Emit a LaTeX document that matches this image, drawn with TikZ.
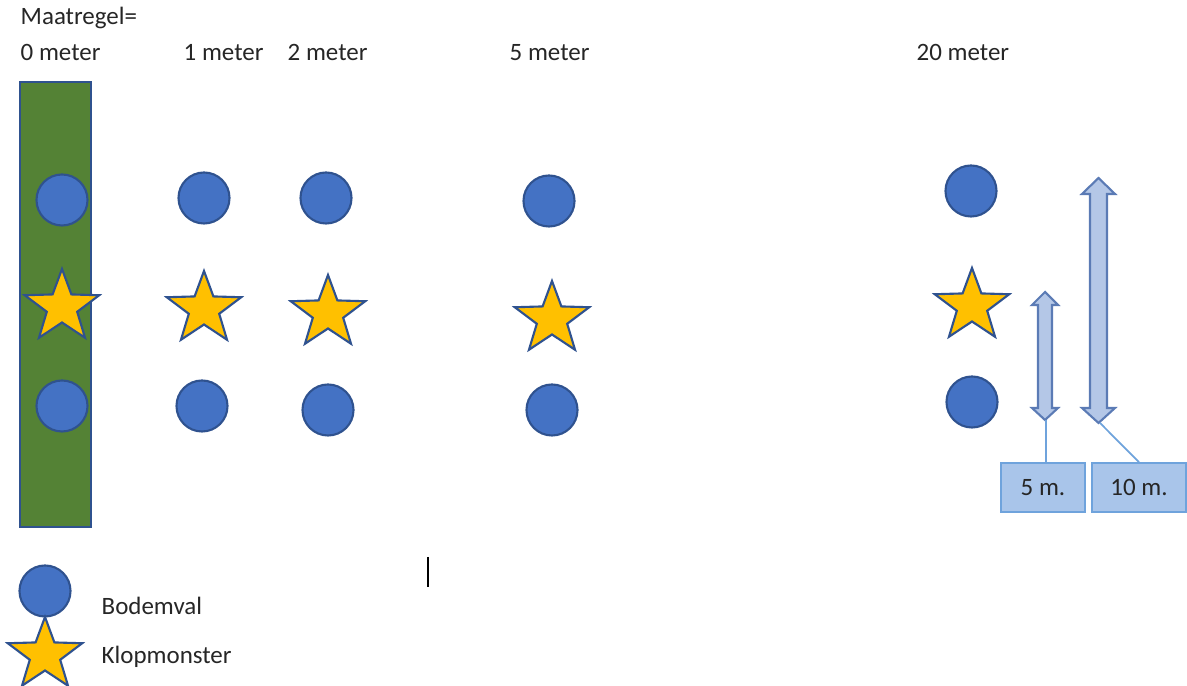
\documentclass[tikz,border=0pt]{standalone}
\usepackage{xcolor}
\usepackage{fontspec}
\setmainfont{Carlito}
\usepackage{tikz}
\usetikzlibrary{shapes.geometric}

\definecolor{trapblue}{HTML}{4472C4}
\definecolor{trapline}{HTML}{2F528F}
\definecolor{stargold}{HTML}{FFC000}
\definecolor{stripgreen}{HTML}{548235}
\definecolor{arrowfill}{HTML}{B4C7E7}
\definecolor{arrowline}{HTML}{5B7BB5}
\definecolor{boxfill}{HTML}{A9C5EA}
\definecolor{boxline}{HTML}{6FA3DC}
\definecolor{txt}{HTML}{262626}

\tikzset{
  trap/.style={circle,draw=trapline,fill=trapblue,line width=0.6pt,minimum size=0.51cm,inner sep=0pt},
  sample/.style={star,star points=5,star point ratio=2.45,draw=trapline,fill=stargold,line width=0.6pt,minimum size=0.76cm,inner sep=0pt,xscale=1.03},
  lbl/.style={anchor=west,text=txt,inner sep=0pt,font=\fontsize{7.1}{8.5}\selectfont},
  dist/.style={draw=arrowline,fill=arrowfill,line width=0.6pt,line join=miter},
  callout/.style={draw=boxline,fill=boxfill,line width=0.5pt,text=txt,inner sep=0pt,font=\fontsize{7.1}{8.5}\selectfont},
}

\begin{document}
\begin{tikzpicture}[x=0.01cm,y=-0.01cm]
        \useasboundingbox (0,0) rectangle (1187,686);
        % headers
        \node[lbl] (title) at (20,18) {Maatregel=};
        \node[lbl] (m0) at (20,53) {0 meter};
        \node[lbl] (m1) at (183,53) {1 meter};
        \node[lbl] (m2) at (287,53) {2 meter};
        \node[lbl] (m5) at (509,53) {5 meter};
        \node[lbl] (m20) at (916,53) {20 meter};

        \draw[draw=trapline,fill=stripgreen,line width=0.6pt] (20,82) rectangle (91,527);

        % 0 meter
        \node[trap] (t0a) at (62,200) {};
        \node[sample] (s0) at (62,307) {};
        \node[trap] (t0b) at (62,406) {};
        % 1 meter
        \node[trap] (t1a) at (204,198) {};
        \node[sample] (s1) at (204,309) {};
        \node[trap] (t1b) at (202,406) {};
        % 2 meter
        \node[trap] (t2a) at (326,198) {};
        \node[sample] (s2) at (328,313) {};
        \node[trap] (t2b) at (328,410) {};
        % 5 meter
        \node[trap] (t5a) at (549,201) {};
        \node[sample] (s5) at (552,319) {};
        \node[trap] (t5b) at (552,410) {};
        % 20 meter
        \node[trap] (t20a) at (971,191) {};
        \node[sample] (s20) at (972,306) {};
        \node[trap] (t20b) at (972,402) {};

        % distance arrows
        \draw[dist] (1045,292) -- (1058,305) -- (1052,305) -- (1052,408) -- (1058,408) -- (1045,420)
          -- (1032,408) -- (1038,408) -- (1038,305) -- (1032,305) -- cycle;
        \draw[dist] (1098.5,178) -- (1115,194) -- (1107,194) -- (1107,408) -- (1115,408) -- (1098.5,423)
          -- (1082,408) -- (1090,408) -- (1090,194) -- (1082,194) -- cycle;
        \coordinate (tipA) at (1046,420);
        \coordinate (tipB) at (1100,423);

        \node[callout,minimum width=0.84cm,minimum height=0.49cm] (box5) at (1043,487.5) {5 m.};
        \node[callout,minimum width=0.94cm,minimum height=0.49cm] (box10) at (1139,487.5) {10 m.};
        \draw[boxline,line width=0.5pt] (tipA) -- (tipA |- box5.north);
        \draw[boxline,line width=0.5pt] (tipB) -- (box10.north);

        % cursor
        \coordinate (cur1) at (428,557);
        \coordinate (cur2) at (428,587);
        \draw[black,line width=0.4pt] (cur1) -- (cur2);

        % legend
        \node[trap] (legtrap) at (45,591) {};
        \node[sample] (legsample) at (45,655) {};
        \node[lbl] (legt) at (101,606) {Bodemval};
        \node[lbl] (legs) at (101,657) {Klopmonster};

        \end{tikzpicture}
\end{document}
